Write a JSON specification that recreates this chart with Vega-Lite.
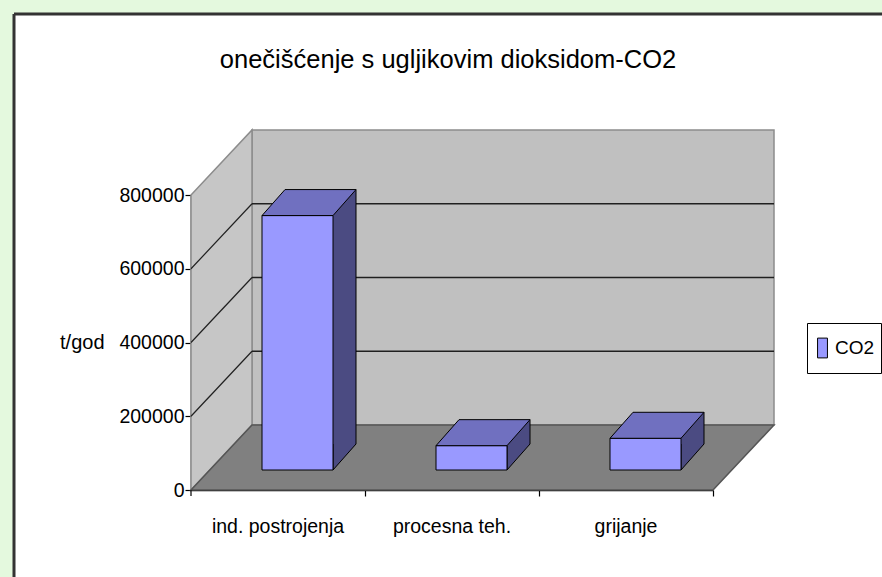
{
  "$schema": "https://vega.github.io/schema/vega-lite/v6.json",
  "width": 868,
  "height": 563,
  "autosize": {"type": "none"},
  "padding": {"left": 14, "top": 14, "right": 0, "bottom": 0},
  "background": "#e4f9de",
  "config": {"view": {"fill": "#ffffff", "stroke": null}},
  "title": {"text": "onečišćenje s ugljikovim dioksidom-CO2", "font": "Liberation Sans, Arial, sans-serif", "fontSize": 25.5, "fontWeight": "normal", "color": "#000000", "anchor": "middle", "offset": -61},
  "data": {"values": [
    {"kategorija": "ind. postrojenja", "vrijednost": 690000, "serija": "CO2"},
    {"kategorija": "procesna teh.", "vrijednost": 66000, "serija": "CO2"},
    {"kategorija": "grijanje", "vrijednost": 86000, "serija": "CO2"}
  ]},
  "layer": [
    {
      "data": {"values": [{}]},
      "mark": {"type": "point", "shape": "M-26,-65 L496,-65 L496,-360 L-26,-360 Z", "size": 4, "filled": true, "fill": "#c0c0c0", "stroke": "#8c8c8c", "strokeWidth": 1.5, "opacity": 1},
      "encoding": {"x": {"datum": "ind. postrojenja", "type": "nominal"}, "y": {"datum": 0, "type": "quantitative"}}
    },
    {
      "data": {"values": [{}]},
      "mark": {"type": "point", "shape": "M-87,0 L-87,-295 L-26,-360 L-26,-65 Z", "size": 4, "filled": true, "fill": "#c6c6c6", "stroke": "#8c8c8c", "strokeWidth": 1.5, "opacity": 1},
      "encoding": {"x": {"datum": "ind. postrojenja", "type": "nominal"}, "y": {"datum": 0, "type": "quantitative"}}
    },
    {
      "data": {"values": [{}]},
      "mark": {"type": "point", "shape": "M-87,0 L435,0 L496,-65 L-26,-65 Z", "size": 4, "filled": true, "fill": "#808080", "stroke": "#555555", "strokeWidth": 1.5, "opacity": 1},
      "encoding": {"x": {"datum": "ind. postrojenja", "type": "nominal"}, "y": {"datum": 0, "type": "quantitative"}}
    },
    {
      "data": {"values": [{"v": 200000}, {"v": 400000}, {"v": 600000}]},
      "mark": {"type": "rule", "stroke": "#202020", "strokeWidth": 1.5, "xOffset": -26, "x2Offset": 148, "yOffset": -65},
      "encoding": {"x": {"datum": "ind. postrojenja", "type": "nominal"}, "x2": {"datum": "grijanje"}, "y": {"field": "v", "type": "quantitative"}}
    },
    {
      "data": {"values": [{"v": 200000}, {"v": 400000}, {"v": 600000}]},
      "mark": {"type": "rule", "stroke": "#202020", "strokeWidth": 1.2, "xOffset": -87, "x2Offset": -26, "y2Offset": -65},
      "encoding": {"x": {"datum": "ind. postrojenja", "type": "nominal"}, "x2": {"datum": "ind. postrojenja"}, "y": {"field": "v", "type": "quantitative"}, "y2": {"field": "v"}}
    },
    {
      "data": {"values": [{}]},
      "mark": {"type": "rule", "stroke": "#000000", "strokeWidth": 1.2, "xOffset": -87, "y2Offset": 6},
      "encoding": {"x": {"datum": "ind. postrojenja", "type": "nominal"}, "y": {"datum": 0, "type": "quantitative"}, "y2": {"datum": 0}}
    },
    {
      "mark": {"type": "bar", "width": 23, "xOffset": 66.5, "yOffset": -46, "y2Offset": -46, "fill": "#4b4b82", "strokeWidth": 0},
      "encoding": {"x": {"field": "kategorija", "type": "nominal"}, "y": {"field": "vrijednost", "type": "quantitative"}}
    },
    {
      "mark": {"type": "point", "shape": "M78,-46 L55,-20 L55,-46", "size": 4, "filled": true, "fill": "#4b4b82", "stroke": "#000000", "strokeWidth": 1, "opacity": 1},
      "encoding": {"x": {"field": "kategorija", "type": "nominal"}, "y": {"datum": 0, "type": "quantitative"}}
    },
    {
      "mark": {"type": "rule", "stroke": "#000000", "strokeWidth": 1, "xOffset": 78, "yOffset": -46, "y2Offset": -46},
      "encoding": {"x": {"field": "kategorija", "type": "nominal"}, "y": {"field": "vrijednost", "type": "quantitative"}, "y2": {"datum": 0}}
    },
    {
      "mark": {"type": "bar", "width": 71, "xOffset": 19.5, "yOffset": -20, "y2Offset": -20, "stroke": "#000000", "strokeWidth": 1, "opacity": 1},
      "encoding": {
        "x": {"field": "kategorija", "type": "nominal",
          "scale": {"domain": ["ind. postrojenja", "procesna teh.", "grijanje"], "range": [177, 699], "paddingInner": 0, "paddingOuter": 0},
          "axis": {"orient": "bottom", "offset": -87, "bandPosition": 1, "domainColor": "#000000", "domainWidth": 1.5, "tickColor": "#000000", "tickSize": 6, "tickWidth": 1.2, "labelAngle": 0, "labelAlign": "center", "labelFont": "Liberation Sans, Arial, sans-serif", "labelFontSize": 19.5, "labelColor": "#000000", "labelPadding": 30, "title": null}},
        "y": {"field": "vrijednost", "type": "quantitative",
          "scale": {"domain": [0, 800000], "range": [476, 181], "nice": false, "zero": true},
          "axis": {"orient": "left", "offset": -177, "values": [0, 200000, 400000, 600000, 800000], "format": "d", "grid": false, "domainColor": "#000000", "domainWidth": 1.5, "tickColor": "#000000", "tickSize": 6, "tickWidth": 1.2, "labelFont": "Liberation Sans, Arial, sans-serif", "labelFontSize": 19.5, "labelColor": "#000000", "labelPadding": 1, "title": "t/god", "titleAngle": 0, "titleX": -87, "titleY": 334, "titleAlign": "right", "titleBaseline": "alphabetic", "titleFont": "Liberation Sans, Arial, sans-serif", "titleFontSize": 20, "titleFontWeight": "normal", "titleColor": "#000000"}},
        "color": {"field": "serija", "type": "nominal", "scale": {"range": ["#9999ff"]},
          "legend": {"orient": "none", "legendX": 793, "legendY": 309, "title": null, "strokeColor": "#000000", "fillColor": "#ffffff", "padding": 6, "labelFont": "Liberation Sans, Arial, sans-serif", "labelFontSize": 19, "labelColor": "#000000", "labelOffset": 3, "clipHeight": 38, "symbolType": "M-0.55,-1.1 L0.55,-1.1 L0.55,1.1 L-0.55,1.1 Z", "symbolSize": 324, "symbolStrokeColor": "#000000", "symbolStrokeWidth": 1, "symbolFillColor": "#9999ff", "symbolOpacity": 1}}
      }
    },
    {
      "mark": {"type": "point", "shape": "M-16,-20 L55,-20 L78,-46 L7,-46 Z", "size": 4, "filled": true, "fill": "#7070c0", "stroke": "#000000", "strokeWidth": 1, "opacity": 1},
      "encoding": {"x": {"field": "kategorija", "type": "nominal"}, "y": {"field": "vrijednost", "type": "quantitative"}}
    },
    {
      "data": {"values": [{}]},
      "mark": {"type": "rule", "stroke": "#333333", "strokeWidth": 3},
      "encoding": {"x": {"value": 0}, "x2": {"value": "width"}, "y": {"value": 0}}
    },
    {
      "data": {"values": [{}]},
      "mark": {"type": "rule", "stroke": "#333333", "strokeWidth": 3},
      "encoding": {"x": {"value": 0}, "y": {"value": 0}, "y2": {"value": "height"}}
    }
  ]
}
